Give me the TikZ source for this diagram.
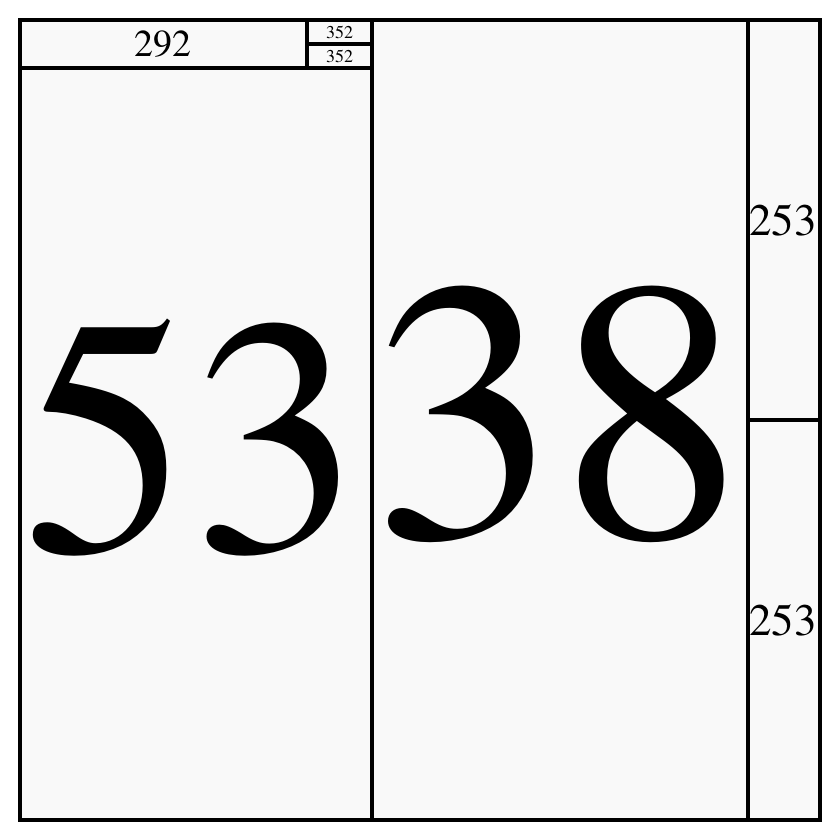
\documentclass[tikz,border=0pt]{standalone}
\usepackage{fontspec}
\setmainfont{TeX Gyre Termes}
\definecolor{cellfill}{HTML}{F9F9F9}
\tikzset{
  cell/.style={draw=black, line width=3.4pt, fill=cellfill},
  lbl/.style={inner sep=0pt, text=black}
}
\newcommand{\fs}[1]{\fontsize{#1}{#1}\selectfont}
\begin{document}
\begin{tikzpicture}[x=1pt,y=-1pt]
\useasboundingbox (0,0) rectangle (840,840);
\fill[white] (0,0) rectangle (840,840);
% cells
\path[cell] (20,20) rectangle (307,68);
\path[cell] (307,20) rectangle (372,44);
\path[cell] (307,44) rectangle (372,68);
\path[cell] (20,68) rectangle (372,820);
\path[cell] (372,20) rectangle (748,820);
\path[cell] (748,20) rectangle (820,420);
\path[cell] (748,420) rectangle (820,820);
% labels
\node[lbl] (t292) at (163,44) {\fs{38}292};
\node[lbl] (t352a) at (339.5,32.5) {\fs{18}352};
\node[lbl] (t352b) at (339.5,56.5) {\fs{18}352};
\node[lbl] (t53) at (192,438) {\fs{338}53};
\node[lbl] (t38) at (558,414) {\fs{372}38};
\node[lbl] (t253a) at (783,220) {\fs{45}253};
\node[lbl] (t253b) at (783,620) {\fs{45}253};
\end{tikzpicture}
\end{document}
